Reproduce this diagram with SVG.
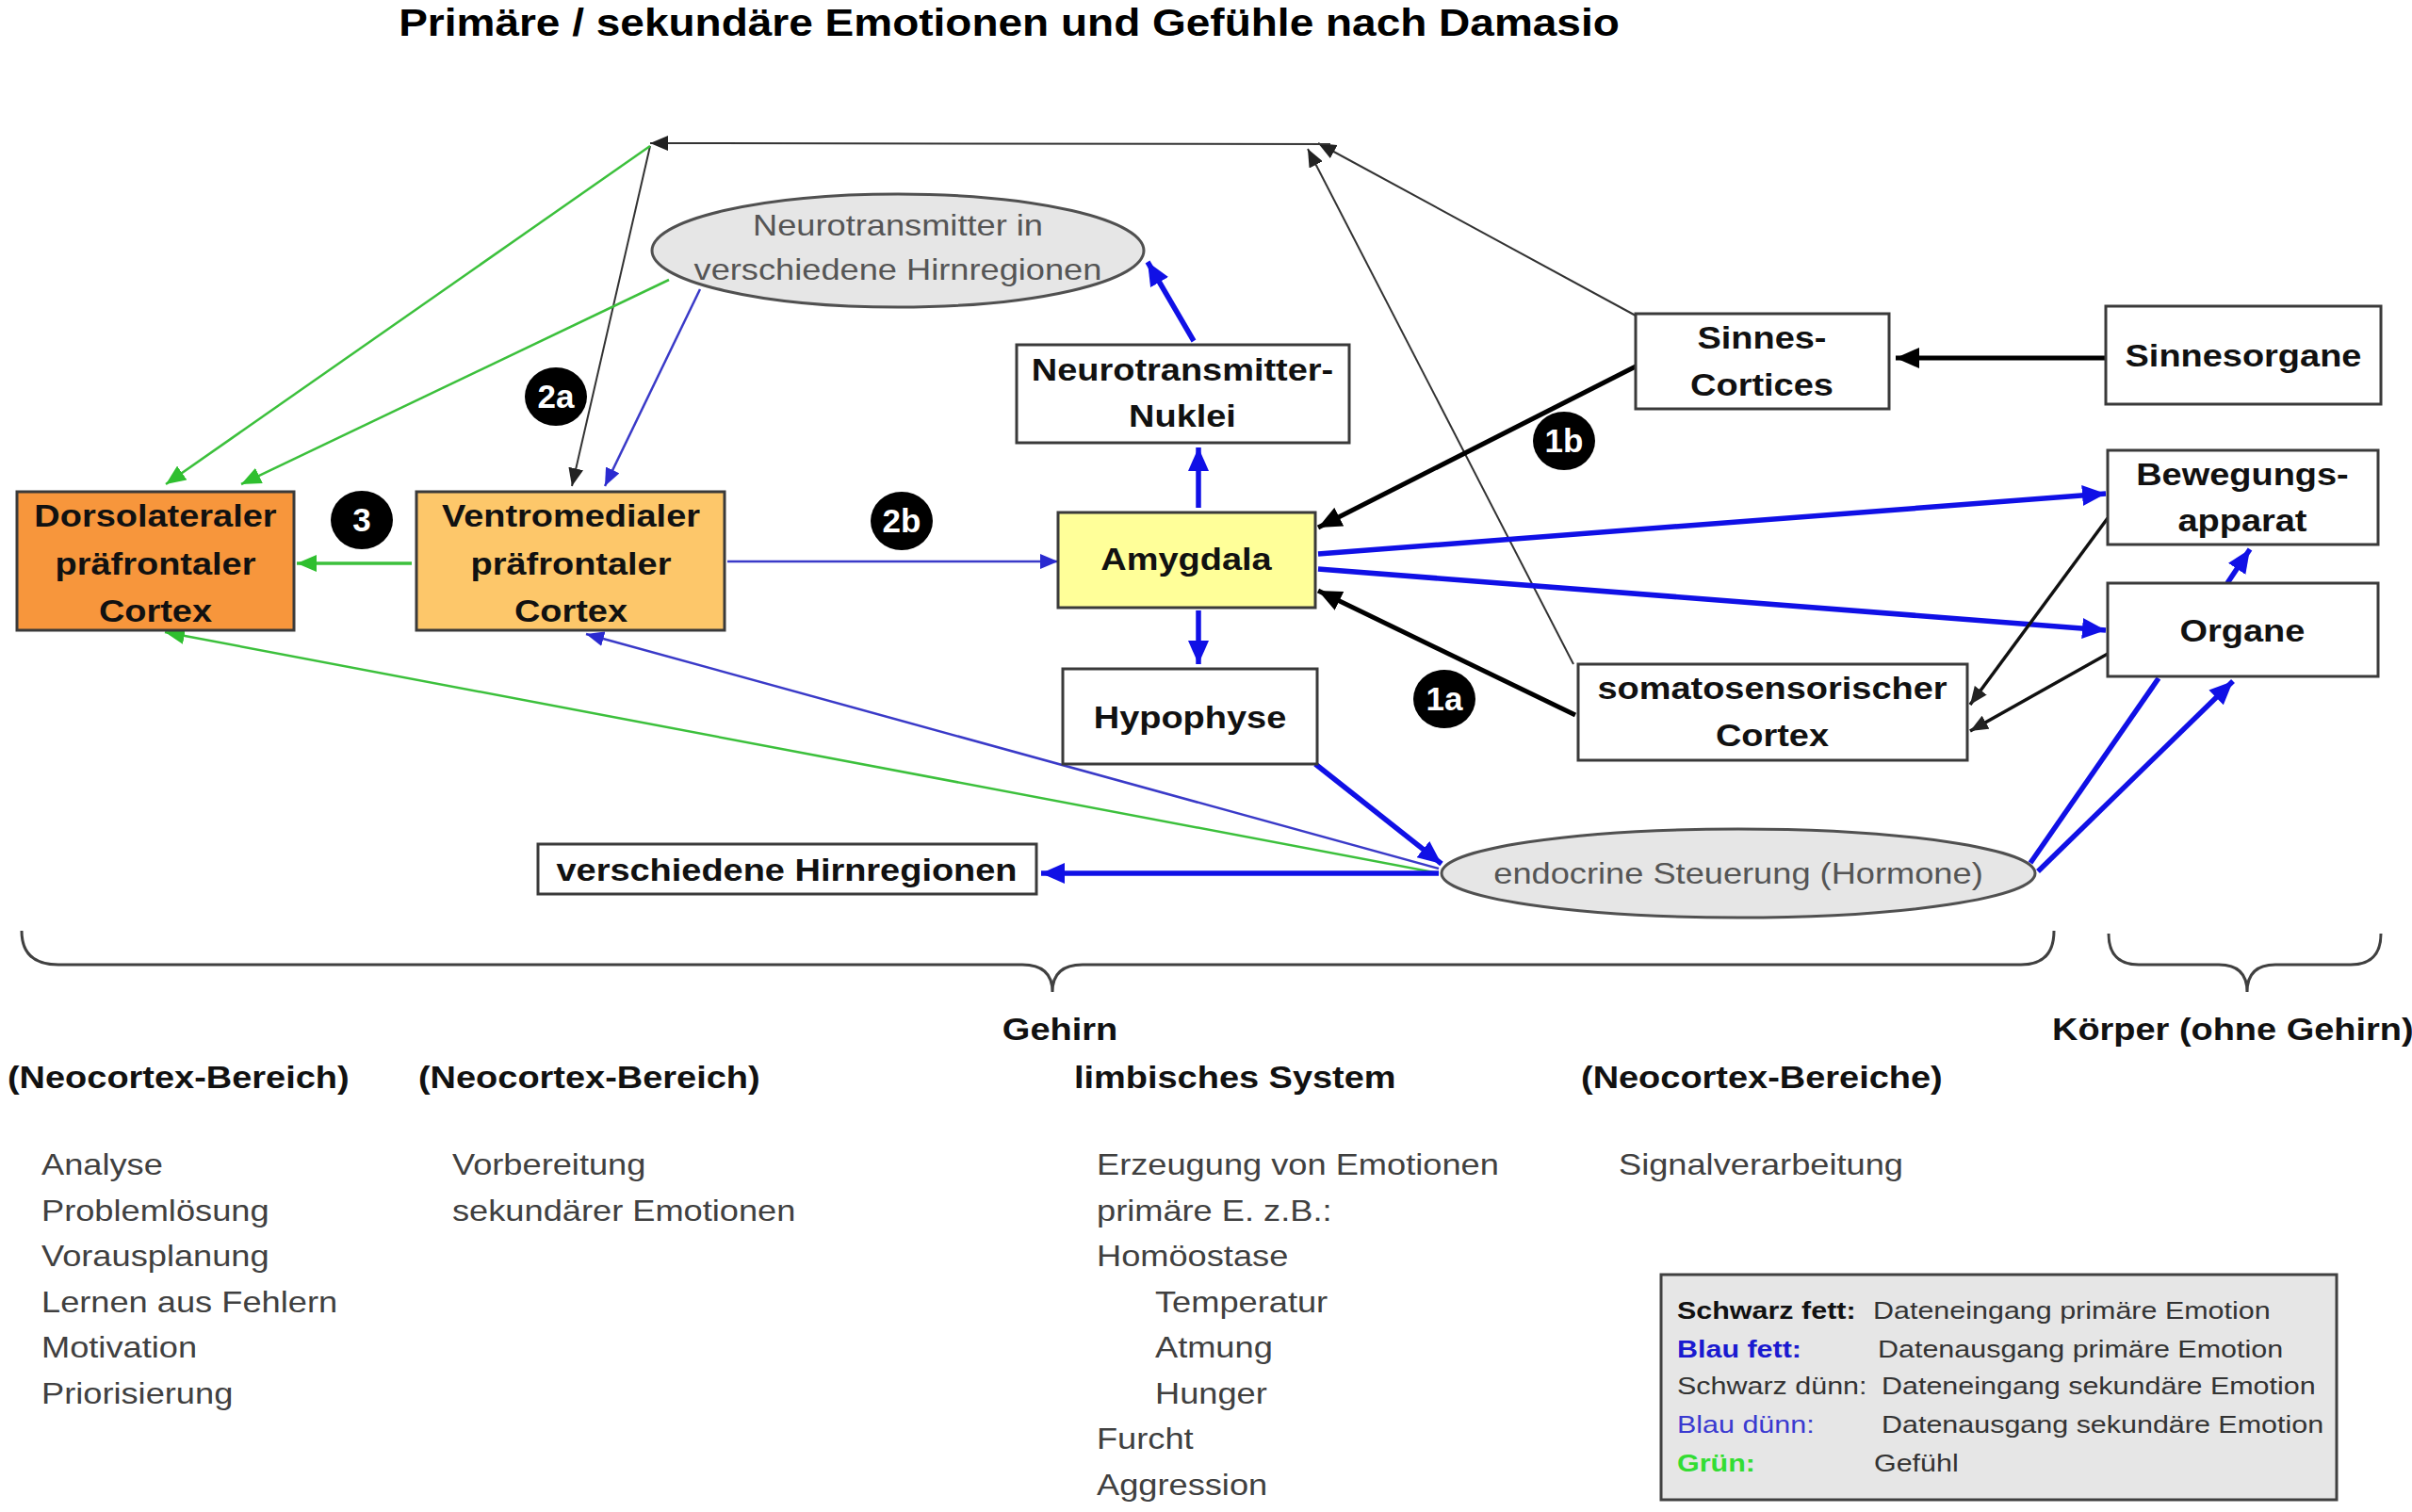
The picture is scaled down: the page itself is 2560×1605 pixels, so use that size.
<svg xmlns="http://www.w3.org/2000/svg" width="2560" height="1605" viewBox="0 0 2560 1605">
<style>
  .box { stroke: #3a3a3a; stroke-width: 3; }
  .white { fill: #ffffff; }
  .ell { fill: #e6e6e6; stroke: #505050; stroke-width: 3; }
  text { transform-box: fill-box; transform-origin: 0% 50%; transform: scaleX(1.15); }
  .c { text-anchor: middle; transform-origin: 50% 50%; }
  .b { font-family: "Liberation Sans", Arial, sans-serif; font-weight: bold; font-size: 33px; fill: #111; }
  .r { font-family: "Liberation Sans", Arial, sans-serif; font-size: 31.5px; fill: #404040; }
  .rg { font-family: "Liberation Sans", Arial, sans-serif; font-size: 31.5px; fill: #555; }
  .lg { font-family: "Liberation Sans", Arial, sans-serif; font-size: 26.5px; fill: #333; }
  .lgb { font-weight: bold; }
  .badge { fill: #000; }
  .bt { font-family: "Liberation Sans", Arial, sans-serif; font-weight: bold; font-size: 35px; fill: #fff; text-anchor: middle; transform: none; }
  .kthin { stroke: #333; stroke-width: 2; fill: none; }
  .kmed { stroke: #111; stroke-width: 3.5; fill: none; }
  .kbold { stroke: #000; stroke-width: 5; fill: none; }
  .bthin { stroke: #3a3ac8; stroke-width: 2.5; fill: none; }
  .bbold { stroke: #1010e6; stroke-width: 5.5; fill: none; }
  .gr { stroke: #3cc03c; stroke-width: 2.5; fill: none; }
  .brace { stroke: #404040; stroke-width: 3; fill: none; }
</style>
<defs>
  <marker id="aKt" markerUnits="userSpaceOnUse" markerWidth="20" markerHeight="16" refX="19" refY="8" orient="auto"><path d="M0,0 L19,8 L0,16 z" fill="#222"/></marker>
  <marker id="aKb" markerUnits="userSpaceOnUse" markerWidth="26" markerHeight="22" refX="25" refY="11" orient="auto"><path d="M0,0 L25,11 L0,22 z" fill="#000"/></marker>
  <marker id="aBt" markerUnits="userSpaceOnUse" markerWidth="20" markerHeight="16" refX="19" refY="8" orient="auto"><path d="M0,0 L19,8 L0,16 z" fill="#2a2ad0"/></marker>
  <marker id="aBb" markerUnits="userSpaceOnUse" markerWidth="26" markerHeight="22" refX="25" refY="11" orient="auto"><path d="M0,0 L25,11 L0,22 z" fill="#1010e6"/></marker>
  <marker id="aG" markerUnits="userSpaceOnUse" markerWidth="22" markerHeight="18" refX="21" refY="9" orient="auto"><path d="M0,0 L21,9 L0,18 z" fill="#2fbf2f"/></marker>
</defs>
<rect width="2560" height="1605" fill="#ffffff"/>

<text x="1071" y="38" class="b c" style="font-size:40px;fill:#000">Primäre / sekundäre Emotionen und Gefühle nach Damasio</text>

<g id="connectors">
  <line class="kthin" x1="1736" y1="335" x2="1399" y2="152" marker-end="url(#aKt)"/>
  <line class="kthin" x1="1670" y1="705" x2="1388" y2="158" marker-end="url(#aKt)"/>
  <line class="kthin" x1="1412" y1="153" x2="690" y2="152" marker-end="url(#aKt)"/>
  <line class="kthin" x1="690" y1="155" x2="607" y2="516" marker-end="url(#aKt)"/>
  <line class="gr" x1="690" y1="155" x2="176" y2="514" marker-end="url(#aG)"/>
  <line class="gr" x1="710" y1="297" x2="256" y2="514" marker-end="url(#aG)"/>
  <line class="gr" x1="437" y1="598" x2="315" y2="598" style="stroke-width:3.5" marker-end="url(#aG)"/>
  <line class="gr" x1="1527" y1="927" x2="175" y2="671" marker-end="url(#aG)"/>
  <line class="bthin" x1="743" y1="307" x2="642" y2="516" marker-end="url(#aBt)"/>
  <line class="bthin" x1="772" y1="596" x2="1123" y2="596" marker-end="url(#aBt)"/>
  <line class="bthin" x1="1527" y1="922" x2="622" y2="673" marker-end="url(#aBt)"/>
  <line class="bbold" x1="1272" y1="539" x2="1272" y2="475" marker-end="url(#aBb)"/>
  <line class="bbold" x1="1267" y1="362" x2="1218" y2="278" marker-end="url(#aBb)"/>
  <line class="bbold" x1="1272" y1="648" x2="1272" y2="705" marker-end="url(#aBb)"/>
  <line class="bbold" x1="1399" y1="588" x2="2235" y2="524" marker-end="url(#aBb)"/>
  <line class="bbold" x1="1399" y1="604" x2="2235" y2="669" marker-end="url(#aBb)"/>
  <line class="bbold" x1="2364" y1="619" x2="2388" y2="583" marker-end="url(#aBb)"/>
  <line class="bbold" x1="2291" y1="720" x2="2155" y2="916"/>
  <line class="bbold" x1="2163" y1="925" x2="2370" y2="723" marker-end="url(#aBb)"/>
  <line class="bbold" x1="1396" y1="811" x2="1530" y2="917" marker-end="url(#aBb)"/>
  <line class="bbold" x1="1527" y1="927" x2="1105" y2="927" marker-end="url(#aBb)"/>
  <line class="kbold" x1="1736" y1="389" x2="1399" y2="560" marker-end="url(#aKb)"/>
  <line class="kbold" x1="1672" y1="759" x2="1399" y2="627" marker-end="url(#aKb)"/>
  <line class="kbold" x1="2235" y1="380" x2="2012" y2="380" marker-end="url(#aKb)"/>
  <line class="kmed" x1="2237" y1="550" x2="2091" y2="748" marker-end="url(#aKt)"/>
  <line class="kmed" x1="2237" y1="694" x2="2091" y2="776" marker-end="url(#aKt)"/>
</g>

<g id="dorsolateral">
  <rect class="box" x="18" y="522" width="294" height="147" fill="#f7963c"/>
  <text class="b c" x="165" y="559">Dorsolateraler</text>
  <text class="b c" x="165" y="610">präfrontaler</text>
  <text class="b c" x="165" y="660">Cortex</text>
</g>
<g id="ventromedial">
  <rect class="box" x="442" y="522" width="327" height="147" fill="#fdc76a"/>
  <text class="b c" x="606" y="559">Ventromedialer</text>
  <text class="b c" x="606" y="610">präfrontaler</text>
  <text class="b c" x="606" y="660">Cortex</text>
</g>
<g id="amygdala">
  <rect class="box" x="1123" y="544" width="273" height="101" fill="#ffff99"/>
  <text class="b c" x="1259" y="605">Amygdala</text>
</g>
<g id="nt-nuklei">
  <rect class="box white" x="1079" y="366" width="353" height="104"/>
  <text class="b c" x="1255" y="404">Neurotransmitter-</text>
  <text class="b c" x="1255" y="453">Nuklei</text>
</g>
<g id="hypophyse">
  <rect class="box white" x="1128" y="710" width="270" height="101"/>
  <text class="b c" x="1263" y="773">Hypophyse</text>
</g>
<g id="nt-hirnregionen">
  <ellipse class="ell" cx="953" cy="266" rx="261" ry="60"/>
  <text class="rg c" x="953" y="250">Neurotransmitter in</text>
  <text class="rg c" x="953" y="297">verschiedene Hirnregionen</text>
</g>
<g id="sinnes-cortices">
  <rect class="box white" x="1736" y="333" width="269" height="101"/>
  <text class="b c" x="1870" y="370">Sinnes-</text>
  <text class="b c" x="1870" y="420">Cortices</text>
</g>
<g id="sinnesorgane">
  <rect class="box white" x="2235" y="325" width="292" height="104"/>
  <text class="b c" x="2381" y="389">Sinnesorgane</text>
</g>
<g id="bewegungsapparat">
  <rect class="box white" x="2237" y="478" width="287" height="100"/>
  <text class="b c" x="2380" y="515">Bewegungs-</text>
  <text class="b c" x="2380" y="564">apparat</text>
</g>
<g id="organe">
  <rect class="box white" x="2237" y="619" width="287" height="99"/>
  <text class="b c" x="2380" y="681">Organe</text>
</g>
<g id="somatosensorisch">
  <rect class="box white" x="1675" y="705" width="413" height="102"/>
  <text class="b c" x="1881" y="742">somatosensorischer</text>
  <text class="b c" x="1881" y="792">Cortex</text>
</g>
<g id="hirnregionen">
  <rect class="box white" x="571" y="896" width="529" height="53"/>
  <text class="b c" x="835" y="935">verschiedene Hirnregionen</text>
</g>
<g id="endocrine">
  <ellipse class="ell" cx="1845" cy="927" rx="315" ry="47"/>
  <text class="rg c" x="1845" y="938">endocrine Steuerung (Hormone)</text>
</g>

<g id="badges">
  <ellipse class="badge" cx="590" cy="421" rx="33" ry="31"/><text class="bt" x="590" y="433">2a</text>
  <ellipse class="badge" cx="384" cy="552" rx="33" ry="31"/><text class="bt" x="384" y="564">3</text>
  <ellipse class="badge" cx="957" cy="553" rx="33" ry="31"/><text class="bt" x="957" y="565">2b</text>
  <ellipse class="badge" cx="1660" cy="468" rx="33" ry="31"/><text class="bt" x="1660" y="480">1b</text>
  <ellipse class="badge" cx="1533" cy="742" rx="33" ry="31"/><text class="bt" x="1533" y="754">1a</text>
</g>

<g id="braces">
  <path class="brace" d="M23,988 Q23,1024 62,1024 L1085,1024 Q1117,1024 1117,1053 Q1117,1024 1149,1024 L2145,1024 Q2180,1024 2180,988"/>
  <path class="brace" d="M2238,991 Q2238,1024 2270,1024 L2355,1024 Q2385,1024 2385,1053 Q2385,1024 2415,1024 L2495,1024 Q2527,1024 2527,991"/>
</g>

<g id="labels">
  <text class="b c" x="1125" y="1104">Gehirn</text>
  <text class="b" x="2178" y="1104">Körper (ohne Gehirn)</text>
  <text class="b" x="8" y="1155">(Neocortex-Bereich)</text>
  <text class="b" x="444" y="1155">(Neocortex-Bereich)</text>
  <text class="b" x="1140" y="1155">limbisches System</text>
  <text class="b" x="1678" y="1155">(Neocortex-Bereiche)</text>

  <text class="r" x="44" y="1247">Analyse</text>
  <text class="r" x="44" y="1296">Problemlösung</text>
  <text class="r" x="44" y="1344">Vorausplanung</text>
  <text class="r" x="44" y="1393">Lernen aus Fehlern</text>
  <text class="r" x="44" y="1441">Motivation</text>
  <text class="r" x="44" y="1490">Priorisierung</text>

  <text class="r" x="480" y="1247">Vorbereitung</text>
  <text class="r" x="480" y="1296">sekundärer Emotionen</text>

  <text class="r" x="1164" y="1247">Erzeugung von Emotionen</text>
  <text class="r" x="1164" y="1296">primäre E. z.B.:</text>
  <text class="r" x="1164" y="1344">Homöostase</text>
  <text class="r" x="1226" y="1393">Temperatur</text>
  <text class="r" x="1226" y="1441">Atmung</text>
  <text class="r" x="1226" y="1490">Hunger</text>
  <text class="r" x="1164" y="1538">Furcht</text>
  <text class="r" x="1164" y="1587">Aggression</text>

  <text class="r" x="1718" y="1247">Signalverarbeitung</text>
</g>

<g id="legend">
  <rect x="1763" y="1353" width="717" height="239" fill="#e6e6e6" stroke="#404040" stroke-width="3"/>
  <text class="lg lgb" x="1780" y="1400" style="fill:#111">Schwarz fett:</text>
  <text class="lg" x="1988" y="1400">Dateneingang primäre Emotion</text>
  <text class="lg lgb" x="1780" y="1441" style="fill:#1a1ad0">Blau fett:</text>
  <text class="lg" x="1993" y="1441">Datenausgang primäre Emotion</text>
  <text class="lg" x="1780" y="1480">Schwarz dünn:</text>
  <text class="lg" x="1997" y="1480">Dateneingang sekundäre Emotion</text>
  <text class="lg" x="1780" y="1521" style="fill:#3a3ad0">Blau dünn:</text>
  <text class="lg" x="1997" y="1521">Datenausgang sekundäre Emotion</text>
  <text class="lg lgb" x="1780" y="1562" style="fill:#33dd33">Grün:</text>
  <text class="lg" x="1989" y="1562">Gefühl</text>
</g>
</svg>
